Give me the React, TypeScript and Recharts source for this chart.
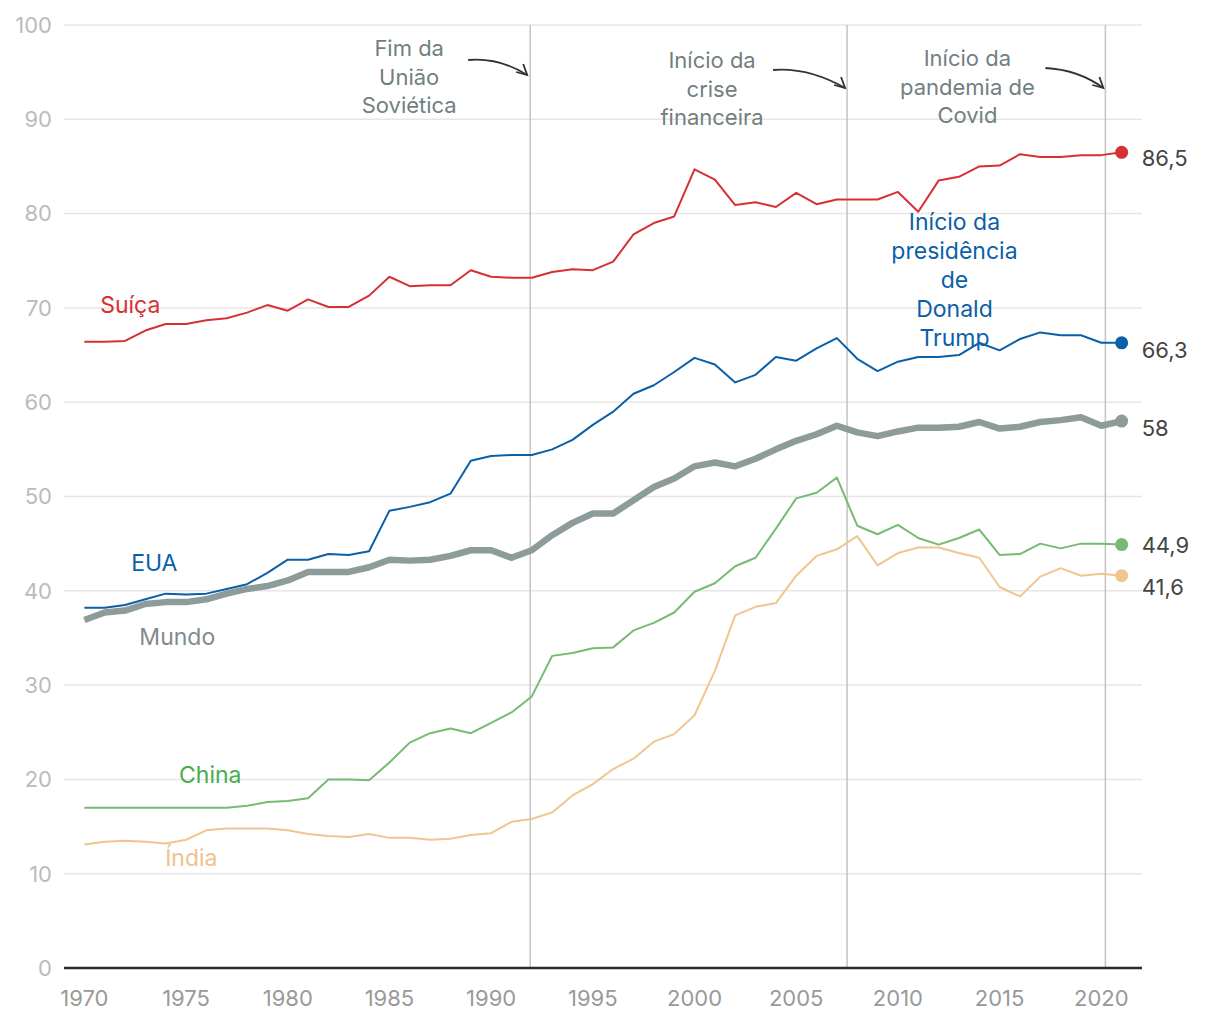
import React from "react";
import {
  LineChart,
  Line,
  XAxis,
  YAxis,
  CartesianGrid,
  ReferenceLine,
  ReferenceDot,
} from "recharts";

const years = Array.from({ length: 52 }, (_, i) => 1970 + i);

const suica = [
  66.4, 66.4, 66.5, 67.6, 68.3, 68.3, 68.7, 68.9, 69.5, 70.3, 69.7, 70.9, 70.1, 70.1, 71.3, 73.3,
  72.3, 72.4, 72.4, 74.0, 73.3, 73.2, 73.2, 73.8, 74.1, 74.0, 74.9, 77.8, 79.0, 79.7, 84.7, 83.6,
  80.9, 81.2, 80.7, 82.2, 81.0, 81.5, 81.5, 81.5, 82.3, 80.2, 83.5, 83.9, 85.0, 85.1, 86.3, 86.0,
  86.0, 86.2, 86.2, 86.5,
];
const eua = [
  38.2, 38.2, 38.5, 39.1, 39.7, 39.6, 39.7, 40.2, 40.7, 41.9, 43.3, 43.3, 43.9, 43.8, 44.2, 48.5,
  48.9, 49.4, 50.3, 53.8, 54.3, 54.4, 54.4, 55.0, 56.0, 57.6, 59.0, 60.9, 61.8, 63.2, 64.7, 64.0,
  62.1, 62.9, 64.8, 64.4, 65.7, 66.8, 64.6, 63.3, 64.3, 64.8, 64.8, 65.0, 66.3, 65.5, 66.7, 67.4,
  67.1, 67.1, 66.3, 66.3,
];
const mundo = [
  36.9, 37.7, 37.9, 38.6, 38.8, 38.8, 39.1, 39.7, 40.2, 40.5, 41.1, 42.0, 42.0, 42.0, 42.5, 43.3,
  43.2, 43.3, 43.7, 44.3, 44.3, 43.5, 44.3, 45.9, 47.2, 48.2, 48.2, 49.6, 51.0, 51.9, 53.2, 53.6,
  53.2, 54.0, 55.0, 55.9, 56.6, 57.5, 56.8, 56.4, 56.9, 57.3, 57.3, 57.4, 57.9, 57.2, 57.4, 57.9,
  58.1, 58.4, 57.5, 58.0,
];
const china = [
  17.0, 17.0, 17.0, 17.0, 17.0, 17.0, 17.0, 17.0, 17.2, 17.6, 17.7, 18.0, 20.0, 20.0, 19.9, 21.8,
  23.9, 24.9, 25.4, 24.9, 26.0, 27.1, 28.8, 33.1, 33.4, 33.9, 34.0, 35.8, 36.6, 37.7, 39.9, 40.8,
  42.6, 43.5, 46.6, 49.8, 50.4, 52.0, 46.9, 46.0, 47.0, 45.6, 44.9, 45.6, 46.5, 43.8, 43.9, 45.0,
  44.5, 45.0, 45.0, 44.9,
];
const india = [
  13.1, 13.4, 13.5, 13.4, 13.2, 13.6, 14.6, 14.8, 14.8, 14.8, 14.6, 14.2, 14.0, 13.9, 14.2, 13.8,
  13.8, 13.6, 13.7, 14.1, 14.3, 15.5, 15.8, 16.5, 18.3, 19.5, 21.1, 22.2, 24.0, 24.8, 26.8, 31.5,
  37.4, 38.3, 38.7, 41.6, 43.7, 44.4, 45.8, 42.7, 44.0, 44.6, 44.6, 44.0, 43.5, 40.4, 39.4, 41.5,
  42.4, 41.6, 41.8, 41.6,
];

const xTicks = [1970, 1975, 1980, 1985, 1990, 1995, 2000, 2005, 2010, 2015, 2020];
const yTicks = [0, 10, 20, 30, 40, 50, 60, 70, 80, 90, 100];

const events = [
  { x: 1991.92, lines: ["Fim da", "União", "Soviética"] },
  { x: 2007.5, lines: ["Início da", "crise", "financeira"] },
  { x: 2020.2, lines: ["Início da", "pandemia de", "Covid"] },
];

const data = years.map((year, i) => ({
  year,
  suica: suica[i],
  eua: eua[i],
  mundo: mundo[i],
  china: china[i],
  india: india[i],
}));

const FONT = "Inter, 'Noto Sans', sans-serif";
const ANNOT = "#727f7f";

// layout of the event notes, relative to each vertical line
const eventStyle = [
  { dx: -121, dy: 23, arrow: "M -62 35 C -40 33, -22 38, -3 50", tip: [-3, 50] },
  { dx: -135, dy: 35, arrow: "M -74 45 C -50 43, -25 50, -2 63", tip: [-2, 63] },
  { dx: -138, dy: 33, arrow: "M -60 43 C -40 44, -20 50, -2 63", tip: [-2, 63] },
];

const series = [
  { key: "suica", color: "#d63035", width: 2, labelDy: 6 },
  { key: "eua", color: "#0b5fa8", width: 2, labelDy: 7 },
  { key: "china", color: "#76ba74", width: 2, labelDy: 0 },
  { key: "india", color: "#f0c58e", width: 2, labelDy: 11 },
  { key: "mundo", color: "#8e9b9b", width: 6.5, labelDy: 7 },
];

const nameLabels = [
  { x: 1972.26, y: 70.3, text: ["Suíça"], color: "#d63035" },
  { x: 1973.44, y: 42.9, text: ["EUA"], color: "#0b5fa8" },
  { x: 1974.57, y: 35.1, text: ["Mundo"], color: "#7f8c8c" },
  { x: 1976.19, y: 20.5, text: ["China"], color: "#45ad4b" },
  { x: 1975.26, y: 11.7, text: ["Índia"], color: "#f0c28a" },
  {
    x: 2012.78,
    y: 79.1,
    text: ["Início da", "presidência", "de", "Donald", "Trump"],
    color: "#0b5fa8",
  },
];

const fmt = (v: number) => String(v).replace(".", ",");

function EventNote({ viewBox, idx }: any) {
  if (!viewBox) return null;
  const { x, y } = viewBox;
  const s = eventStyle[idx];
  const ev = events[idx];
  const [tx, ty] = s.tip;
  return (
    <g>
      <text
        x={x + s.dx}
        y={y + s.dy}
        textAnchor="middle"
        dominantBaseline="central"
        fill={ANNOT}
        fontSize={22}
        fontFamily={FONT}
      >
        {ev.lines.map((l, i) => (
          <tspan key={i} x={x + s.dx} dy={i === 0 ? 0 : 28.5}>
            {l}
          </tspan>
        ))}
      </text>
      <g transform={`translate(${x},${y})`} fill="none" stroke="#333" strokeWidth={1.8}>
        <path d={s.arrow} />
        <path d={`M ${tx - 11} ${ty - 3} L ${tx} ${ty} L ${tx - 4} ${ty - 11}`} />
      </g>
    </g>
  );
}

export default function App() {
  return (
    <div style={{ width: 1204, height: 1004 }}>
      <LineChart
        width={1204}
        height={1004}
        data={data}
        margin={{ top: 17, right: 70, left: 0, bottom: 0 }}
        style={{ fontFamily: FONT }}
      >
        <CartesianGrid vertical={false} stroke="#e6e6e6" strokeWidth={1.5} />
        <XAxis
          type="number"
          dataKey="year"
          domain={[1969, 2022]}
          ticks={xTicks}
          height={44}
          tickSize={0}
          tickMargin={22}
          axisLine={{ stroke: "#2b2b2b", strokeWidth: 2.5 }}
          tick={{ fill: "#999", fontSize: 22, fontFamily: FONT }}
          interval={0}
        />
        <YAxis
          type="number"
          domain={[0, 100]}
          ticks={yTicks}
          width={56}
          tickSize={0}
          tickMargin={12}
          axisLine={false}
          tick={{ fill: "#bbb", fontSize: 22, fontFamily: FONT }}
          interval={0}
        />
        {events.map((ev, i) => (
          <ReferenceLine
            key={ev.x}
            x={ev.x}
            stroke="#c4c4c4"
            strokeWidth={1.5}
            label={(p: any) => <EventNote viewBox={p.viewBox} idx={i} />}
          />
        ))}
        {series.map((s) => (
          <Line
            key={s.key}
            dataKey={s.key}
            stroke={s.color}
            strokeWidth={s.width}
            isAnimationActive={false}
            strokeLinejoin="round"
            dot={(p: any) => {
              if (p.index !== data.length - 1)
                return <g key={`${s.key}-d-${p.index}`} />;
              return (
                <g key={`${s.key}-end`}>
                  <circle cx={p.cx} cy={p.cy} r={6.5} fill={s.color} />
                  <text
                    x={p.cx + 20}
                    y={p.cy + s.labelDy}
                    dominantBaseline="central"
                    fill="#444"
                    fontSize={22}
                    fontFamily={FONT}
                  >
                    {fmt(p.value)}
                  </text>
                </g>
              );
            }}
            activeDot={false}
          />
        ))}
        {nameLabels.map((n) => (
          <ReferenceDot
            key={n.text[0]}
            x={n.x}
            y={n.y}
            r={0}
            shape={(p: any) => (
              <text
                x={p.cx}
                y={p.cy}
                textAnchor="middle"
                dominantBaseline="central"
                fill={n.color}
                fontSize={23}
                fontFamily={FONT}
              >
                {n.text.map((t, i) => (
                  <tspan key={i} x={p.cx} dy={i === 0 ? 0 : 29}>
                    {t}
                  </tspan>
                ))}
              </text>
            )}
          />
        ))}
      </LineChart>
    </div>
  );
}
